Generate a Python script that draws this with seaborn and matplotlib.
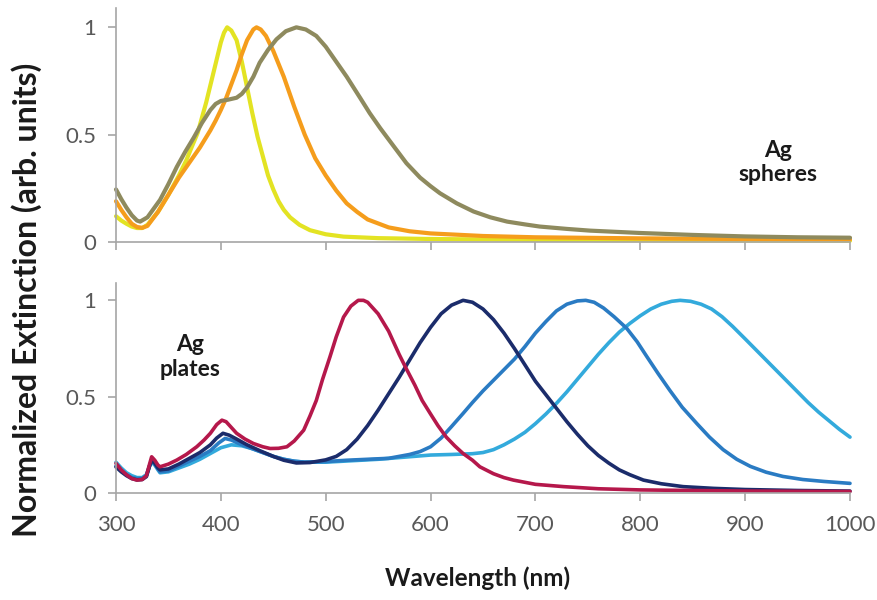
import matplotlib
matplotlib.use("Agg")
import matplotlib.pyplot as plt
import seaborn as sns

# ---------------- data ----------------
# Ag spheres (top panel)
sph_yellow_x = [300, 305, 310, 315, 320, 325, 330, 340, 350, 360, 367, 372, 378, 382, 386, 390, 395, 400,
                403, 406, 410, 415, 420, 425, 430, 435, 440, 445, 450, 455, 460, 466, 475, 485, 500, 517,
                550, 600, 700, 800, 1000]
sph_yellow_y = [0.12, 0.10, 0.085, 0.072, 0.065, 0.065, 0.08, 0.14, 0.22, 0.31, 0.38, 0.44, 0.51, 0.58,
                0.65, 0.73, 0.83, 0.93, 0.975, 1.0, 0.985, 0.94, 0.84, 0.72, 0.60, 0.49, 0.40, 0.31, 0.245,
                0.19, 0.15, 0.115, 0.08, 0.055, 0.036, 0.025, 0.018, 0.014, 0.01, 0.008, 0.006]

sph_orange_x = [300, 305, 310, 315, 320, 325, 330, 340, 350, 360, 370, 380, 390, 395, 400, 405, 410, 415,
                420, 425, 431, 434, 438, 443, 450, 460, 470, 480, 490, 500, 510, 520, 530, 540, 560, 580,
                600, 650, 700, 800, 900, 1000]
sph_orange_y = [0.19, 0.15, 0.115, 0.085, 0.07, 0.066, 0.075, 0.14, 0.22, 0.30, 0.37, 0.44, 0.52, 0.565,
                0.615, 0.67, 0.735, 0.80, 0.875, 0.94, 0.99, 1.0, 0.99, 0.96, 0.89, 0.77, 0.63, 0.50, 0.39,
                0.31, 0.24, 0.18, 0.14, 0.105, 0.068, 0.05, 0.04, 0.028, 0.022, 0.017, 0.014, 0.012]

sph_olive_x = [300, 305, 310, 315, 320, 323, 330, 342, 350, 358, 366, 374, 382, 390, 395, 400, 407, 415,
               420, 425, 431, 437, 445, 453, 462, 472, 481, 491, 500, 510, 520, 533, 542, 552, 565, 577,
               590, 600, 609, 625, 641, 657, 673, 690, 704, 730, 752, 800, 850, 900, 950, 1000]
sph_olive_y = [0.245, 0.20, 0.16, 0.125, 0.10, 0.095, 0.115, 0.196, 0.27, 0.35, 0.42, 0.485, 0.555, 0.615,
               0.643, 0.657, 0.663, 0.672, 0.69, 0.72, 0.77, 0.835, 0.895, 0.944, 0.982, 1.0, 0.99, 0.96,
               0.91, 0.84, 0.77, 0.67, 0.60, 0.53, 0.445, 0.367, 0.30, 0.26, 0.227, 0.18, 0.142, 0.115,
               0.095, 0.082, 0.072, 0.061, 0.053, 0.042, 0.033, 0.026, 0.022, 0.02]

# Ag plates (bottom panel)
pl_crimson_x = [300, 305, 310, 315, 320, 325, 329, 332, 334, 337, 340, 342, 350, 358, 367, 377, 384, 390,
                396, 401, 405, 410, 415, 423, 431, 440, 447, 455, 463, 470, 479, 485, 491, 497, 504, 510,
                517, 524, 531, 536, 540, 550, 560, 570, 576, 585, 592, 600, 607, 615, 623, 631, 640, 647,
                660, 670, 679, 700, 727, 760, 800, 900, 1000]
pl_crimson_y = [0.154, 0.12, 0.095, 0.075, 0.067, 0.07, 0.09, 0.15, 0.188, 0.17, 0.145, 0.136, 0.15, 0.171,
                0.20, 0.24, 0.275, 0.31, 0.355, 0.378, 0.37, 0.34, 0.31, 0.28, 0.257, 0.24, 0.231, 0.232,
                0.24, 0.27, 0.326, 0.40, 0.48, 0.59, 0.706, 0.81, 0.913, 0.97, 1.0, 1.0, 0.99, 0.93, 0.84,
                0.72, 0.654, 0.56, 0.48, 0.41, 0.35, 0.29, 0.245, 0.205, 0.17, 0.136, 0.10, 0.08, 0.067,
                0.045, 0.033, 0.022, 0.016, 0.01, 0.008]

pl_navy_x = [300, 305, 310, 315, 320, 325, 329, 332, 334, 337, 340, 342, 350, 360, 370, 380, 390, 396, 402,
             408, 415, 425, 437, 450, 460, 472, 485, 500, 510, 520, 530, 540, 550, 560, 570, 580, 590, 600,
             610, 620, 631, 640, 650, 660, 670, 680, 690, 700, 710, 720, 730, 740, 750, 760, 770, 780, 790,
             803, 820, 841, 870, 900, 950, 1000]
pl_navy_y = [0.135, 0.11, 0.09, 0.075, 0.068, 0.07, 0.085, 0.14, 0.17, 0.155, 0.13, 0.12, 0.125, 0.15,
             0.18, 0.21, 0.25, 0.285, 0.31, 0.30, 0.28, 0.25, 0.22, 0.19, 0.17, 0.156, 0.158, 0.172, 0.19,
             0.225, 0.28, 0.35, 0.43, 0.515, 0.60, 0.69, 0.78, 0.86, 0.93, 0.975, 1.0, 0.99, 0.955, 0.90,
             0.83, 0.75, 0.665, 0.58, 0.51, 0.44, 0.37, 0.305, 0.245, 0.195, 0.155, 0.12, 0.095, 0.067,
             0.048, 0.033, 0.024, 0.018, 0.013, 0.01]

pl_blue_x = [300, 305, 310, 315, 320, 325, 329, 332, 334, 337, 340, 342, 350, 360, 370, 380, 390, 398, 404,
             410, 420, 430, 440, 450, 460, 470, 480, 500, 520, 540, 560, 580, 590, 600, 610, 620, 631, 640,
             650, 660, 670, 680, 690, 700, 710, 720, 730, 740, 748, 756, 765, 775, 787, 797, 806, 817, 828,
             840, 854, 866, 879, 892, 905, 920, 936, 955, 975, 1000]
pl_blue_y = [0.14, 0.115, 0.095, 0.08, 0.075, 0.075, 0.09, 0.14, 0.165, 0.15, 0.125, 0.11, 0.115, 0.14,
             0.165, 0.19, 0.22, 0.26, 0.283, 0.275, 0.25, 0.23, 0.21, 0.19, 0.175, 0.165, 0.16, 0.163,
             0.17, 0.175, 0.18, 0.20, 0.215, 0.24, 0.285, 0.345, 0.413, 0.47, 0.53, 0.585, 0.64, 0.695,
             0.76, 0.83, 0.89, 0.945, 0.98, 0.997, 1.0, 0.99, 0.96, 0.915, 0.855, 0.785, 0.71, 0.62,
             0.534, 0.445, 0.36, 0.29, 0.225, 0.175, 0.138, 0.108, 0.086, 0.07, 0.06, 0.05]

pl_cyan_x = [300, 305, 310, 315, 320, 325, 329, 332, 334, 337, 340, 342, 350, 360, 370, 380, 390, 400, 410,
             420, 430, 440, 450, 460, 470, 480, 500, 550, 600, 620, 640, 650, 660, 670, 680, 690, 700, 710,
             720, 730, 740, 750, 760, 770, 780, 790, 800, 810, 820, 830, 838, 848, 858, 868, 878, 888, 900,
             910, 920, 930, 940, 950, 960, 970, 980, 990, 1000]
pl_cyan_y = [0.16, 0.13, 0.105, 0.09, 0.08, 0.08, 0.095, 0.14, 0.16, 0.145, 0.12, 0.105, 0.11, 0.13, 0.15,
             0.175, 0.205, 0.235, 0.25, 0.245, 0.23, 0.21, 0.19, 0.175, 0.165, 0.16, 0.16, 0.175, 0.197,
             0.20, 0.204, 0.21, 0.225, 0.25, 0.28, 0.315, 0.36, 0.41, 0.465, 0.525, 0.59, 0.655, 0.72,
             0.78, 0.835, 0.88, 0.92, 0.955, 0.98, 0.995, 1.0, 0.995, 0.98, 0.955, 0.915, 0.865, 0.80,
             0.745, 0.69, 0.635, 0.58, 0.525, 0.47, 0.42, 0.375, 0.33, 0.29]

x_ticks = [300, 400, 500, 600, 700, 800, 900, 1000]
y_ticks = [0, 0.5, 1]
y_ticklabels = ["0", "0.5", "1"]

# ---------------- style ----------------
sns.set_theme(style="white")
plt.rcParams["font.family"] = ["Lato", "DejaVu Sans"]

fig = plt.figure(figsize=(8.78, 6.0), dpi=100)
ax_top = fig.add_axes([116 / 878, 1 - 242 / 600, (850 - 116) / 878, (242 - 8) / 600])
ax_bot = fig.add_axes([116 / 878, 1 - 493 / 600, (850 - 116) / 878, (493 - 283) / 600])

top_series = [(sph_yellow_x, sph_yellow_y, "#e3e323"),
              (sph_orange_x, sph_orange_y, "#f59d1c"),
              (sph_olive_x, sph_olive_y, "#8e8a5e")]
bot_series = [(pl_cyan_x, pl_cyan_y, "#33aadc"),
              (pl_blue_x, pl_blue_y, "#2a7bc3"),
              (pl_navy_x, pl_navy_y, "#1b2c6b"),
              (pl_crimson_x, pl_crimson_y, "#b5184b")]

for xs, ys, c in top_series:
    sns.lineplot(x=xs, y=ys, ax=ax_top, color=c, linewidth=3.0, sort=False, estimator=None)
for xs, ys, c in bot_series:
    sns.lineplot(x=xs, y=ys, ax=ax_bot, color=c, linewidth=2.6, sort=False, estimator=None)

spine_c = "#a6a6a6"
for ax in (ax_top, ax_bot):
    ax.set_xlim(300, 1000)
    ax.set_ylim(0, 1.09)
    ax.set_xticks(x_ticks)
    ax.set_yticks(y_ticks)
    ax.set_yticklabels(y_ticklabels)
    for s in ("top", "right"):
        ax.spines[s].set_visible(False)
    for s in ("left", "bottom"):
        ax.spines[s].set_color(spine_c)
        ax.spines[s].set_linewidth(1.2)
    ax.tick_params(axis="both", which="major", direction="out", length=6, width=1.2,
                   color=spine_c, labelcolor="#595959", labelsize=16,
                   bottom=True, left=True)
    ax.tick_params(axis="x", pad=10)
    ax.tick_params(axis="y", pad=8)
    ax.set_xlabel("")
    ax.set_ylabel("")
    ax.set_facecolor("none")
    for ln in ax.lines:
        ln.set_clip_on(False)
        ln.set_solid_joinstyle("round")
        ln.set_solid_capstyle("round")

ax_top.tick_params(axis="x", labelbottom=False)

ax_top.text(931, 0.37, "Ag\nspheres", ha="center", va="center", fontsize=16.5,
            fontweight="bold", color="#1a1a1a", linespacing=1.2)
ax_bot.text(370.6, 0.705, "Ag\nplates", ha="center", va="center", fontsize=16.5,
            fontweight="bold", color="#1a1a1a", linespacing=1.2)

fig.text(478 / 878, 1 - 578 / 600, "Wavelength (nm)", ha="center", va="center",
         fontsize=17.5, fontweight="bold", color="#1a1a1a")
fig.text(27 / 878, 1 - 300 / 600, "Normalized Extinction (arb. units)", ha="center", va="center",
         rotation=90, fontsize=23, fontweight="bold", color="#1a1a1a")

fig.savefig("out.png", dpi=100, facecolor="white")
